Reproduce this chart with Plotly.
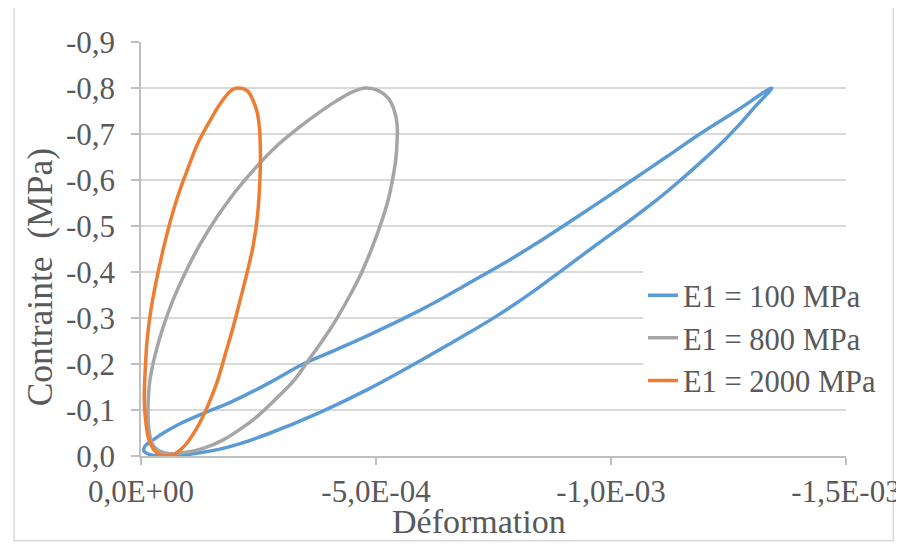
import plotly.graph_objects as go

# Strain (x, in units of 1e-3) and stress (y, MPa)
e100_x = [-1.342, -1.306, -1.270, -1.232, -1.189, -1.147, -1.094, -1.040, -0.966, -0.892,
          -0.828, -0.764, -0.693, -0.594, -0.487, -0.381, -0.275, -0.211, -0.168, -0.132,
          -0.089, -0.047, -0.019, -0.006, -0.009, -0.026, -0.051, -0.083, -0.136, -0.189,
          -0.275, -0.345, -0.417, -0.487, -0.557, -0.629, -0.693, -0.764, -0.835, -0.906,
          -0.977, -1.047, -1.119, -1.189, -1.268, -1.342]
e100_y = [-0.800, -0.759, -0.717, -0.677, -0.637, -0.599, -0.554, -0.512, -0.457, -0.401,
          -0.353, -0.309, -0.265, -0.207, -0.147, -0.095, -0.050, -0.027, -0.015, -0.008,
          -0.002, 0.000, -0.003, -0.011, -0.022, -0.035, -0.052, -0.070, -0.094, -0.116,
          -0.160, -0.200, -0.232, -0.264, -0.298, -0.336, -0.373, -0.414, -0.458, -0.505,
          -0.553, -0.601, -0.651, -0.700, -0.751, -0.800]

e800_x = [-0.162, -0.200, -0.245, -0.291, -0.337, -0.378, -0.416, -0.449, -0.477, -0.504,
          -0.526, -0.538, -0.545, -0.545, -0.542, -0.535, -0.526, -0.513, -0.498, -0.481,
          -0.462, -0.439, -0.415, -0.387, -0.357, -0.326, -0.289, -0.253, -0.215, -0.175,
          -0.134, -0.096, -0.062, -0.036, -0.023, -0.017, -0.015, -0.016, -0.019, -0.030,
          -0.047, -0.068, -0.094, -0.125, -0.162, -0.200]
e800_y = [-0.520, -0.574, -0.628, -0.676, -0.715, -0.746, -0.772, -0.791, -0.800, -0.795,
          -0.778, -0.754, -0.720, -0.687, -0.644, -0.600, -0.557, -0.513, -0.470, -0.426,
          -0.383, -0.339, -0.296, -0.252, -0.209, -0.165, -0.126, -0.091, -0.061, -0.035,
          -0.017, -0.008, -0.005, -0.013, -0.028, -0.057, -0.089, -0.133, -0.165, -0.220,
          -0.280, -0.339, -0.398, -0.459, -0.520, -0.574]

e2000_x = [-0.047, -0.062, -0.079, -0.100, -0.121, -0.143, -0.164, -0.181, -0.194, -0.206,
           -0.226, -0.238, -0.247, -0.252, -0.254, -0.253, -0.248, -0.239, -0.227, -0.211,
           -0.196, -0.179, -0.162, -0.140, -0.119, -0.096, -0.072, -0.057, -0.043, -0.028,
           -0.017, -0.011, -0.007, -0.009, -0.013, -0.021, -0.033, -0.047, -0.062]
e2000_y = [-0.448, -0.509, -0.567, -0.626, -0.680, -0.722, -0.759, -0.783, -0.796, -0.800,
           -0.794, -0.774, -0.748, -0.713, -0.665, -0.600, -0.524, -0.459, -0.404, -0.339,
           -0.280, -0.220, -0.161, -0.104, -0.061, -0.026, -0.005, 0.000, -0.002, -0.013,
           -0.035, -0.067, -0.122, -0.187, -0.252, -0.317, -0.383, -0.448, -0.509]

STRAIN_UNIT = 1e-3

series_names = ["E1 = 100 MPa", "E1 = 800 MPa", "E1 = 2000 MPa"]
series_colors = ["#5B9BD5", "#A5A5A5", "#ED7D31"]

x_tickvals = [0, -5e-4, -1e-3, -1.5e-3]
x_ticktext = ["0,0E+00", "-5,0E-04", "-1,0E-03", "-1,5E-03"]
y_tickvals = [0, -0.1, -0.2, -0.3, -0.4, -0.5, -0.6, -0.7, -0.8, -0.9]
y_ticktext = ["0,0", "-0,1", "-0,2", "-0,3", "-0,4", "-0,5", "-0,6", "-0,7", "-0,8", "-0,9"]

FONT = "Liberation Serif, Times New Roman, serif"
TXT = "#595959"

fig = go.Figure()
for xs, ys, name, col in zip([e100_x, e800_x, e2000_x], [e100_y, e800_y, e2000_y],
                             series_names, series_colors):
    fig.add_trace(go.Scatter(x=[v * STRAIN_UNIT for v in xs], y=ys, mode="lines", name=name,
                             line=dict(color=col, width=3.5, shape="spline", smoothing=1.0)))

fig.update_layout(
    width=896, height=538,
    margin=dict(l=133, r=58, t=34, b=90),
    paper_bgcolor="white", plot_bgcolor="white",
    font=dict(family=FONT, color=TXT, size=31),
    showlegend=True,
    legend=dict(x=0.712, y=0.452, xanchor="left", yanchor="top",
                bgcolor="rgba(255,255,255,1)", borderwidth=0,
                font=dict(family=FONT, size=30.5, color=TXT)),
    xaxis=dict(range=[0, -1.5e-3], tickvals=x_tickvals, ticktext=x_ticktext,
               automargin=False,
               showgrid=False, zeroline=False, showline=True, linecolor="#BFBFBF", linewidth=1.5,
               ticks="outside", ticklen=7, tickcolor="#BFBFBF", tickwidth=1.5,
               tickfont=dict(family=FONT, size=31, color=TXT)),
    yaxis=dict(range=[0, -0.9], tickvals=y_tickvals, ticktext=y_ticktext,
               automargin=False,
               showgrid=True, gridcolor="#D9D9D9", gridwidth=1.5, zeroline=False,
               showline=True, linecolor="#BFBFBF", linewidth=1.5,
               ticks="outside", ticklen=8, tickcolor="#BFBFBF", tickwidth=1.5,
               ticklabelstandoff=10,
               tickfont=dict(family=FONT, size=31, color=TXT)),
    annotations=[
        dict(text="Déformation", xref="paper", yref="paper", x=0.48, y=-0.159,
             xanchor="center", yanchor="middle", showarrow=False,
             font=dict(family=FONT, size=34, color=TXT)),
        dict(text="Contrainte  (MPa)", xref="paper", yref="paper", x=-0.143, y=0.432,
             xanchor="center", yanchor="middle", textangle=-90, showarrow=False,
             font=dict(family=FONT, size=35.5, color=TXT)),
    ],
    shapes=[dict(type="rect", xref="paper", yref="paper",
                 x0=-0.18, x1=1.067, y0=-0.205, y1=1.087,
                 line=dict(color="#D9D9D9", width=1.5), layer="below")],
)

fig.write_html("out.html")
